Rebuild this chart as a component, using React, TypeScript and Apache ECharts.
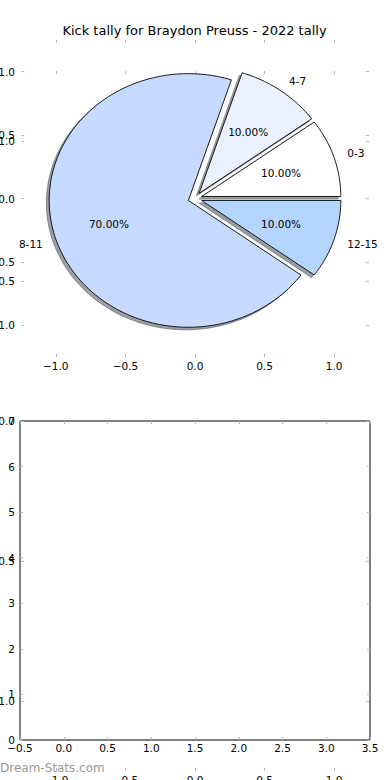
import React, { useEffect, useRef } from "react";
import * as echarts from "echarts";

const TITLE = "Kick tally for Braydon Preuss - 2022 tally";
const WATERMARK = "Dream-Stats.com";
const CATEGORIES = ["0-3", "4-7", "8-11", "12-15"];
const KICKS = [1, 1, 7, 1];
const EXPLODE = [0.05, 0.05, 0.05, 0.05];
const SLICE_COLORS = ["#ffffff", "#ebf2ff", "#c6daff", "#b3d5ff"];
const PIE_TICKS = [-1, -0.5, 0, 0.5, 1];
const BAR_X_TICKS = [-0.5, 0, 0.5, 1, 1.5, 2, 2.5, 3, 3.5];
const BAR_Y_TICKS = [0, 1, 2, 3, 4, 5, 6, 7];

const FONT = "DejaVu Sans";
const TICK_GRAY = "#b8b8b8";
const FS = 10.5;

const TOTAL = KICKS.reduce((a, b) => a + b, 0);
function sliceAngles(i: number): [number, number] {
  let s = 0;
  for (let j = 0; j < i; j++) s += KICKS[j];
  return [(s / TOTAL) * 360, ((s + KICKS[i]) / TOTAL) * 360];
}
function shadowColor(hex: string) {
  const r = parseInt(hex.slice(1, 3), 16) * 0.3;
  const g = parseInt(hex.slice(3, 5), 16) * 0.3;
  const b = parseInt(hex.slice(5, 7), 16) * 0.3;
  return `rgba(${Math.round(r)},${Math.round(g)},${Math.round(b)},0.5)`;
}
const fmt1 = (v: number) => (v < 0 ? "\u2212" : "") + Math.abs(v).toFixed(1);

function wedgeRender(offset: [number, number], shadow: boolean) {
  return (params: any, api: any) => {
    const i = params.dataIndex;
    const [a0, a1] = sliceAngles(i);
    const mid = (((a0 + a1) / 2) * Math.PI) / 180;
    const cx = EXPLODE[i] * Math.cos(mid) + offset[0];
    const cy = EXPLODE[i] * Math.sin(mid) + offset[1];
    const pts: number[][] = [api.coord([cx, cy])];
    const steps = Math.max(4, Math.ceil(a1 - a0));
    for (let k = 0; k <= steps; k++) {
      const a = ((a0 + ((a1 - a0) * k) / steps) * Math.PI) / 180;
      pts.push(api.coord([cx + Math.cos(a), cy + Math.sin(a)]));
    }
    const c = SLICE_COLORS[i];
    return {
      type: "polygon",
      shape: { points: pts },
      style: shadow
        ? { fill: shadowColor(c), stroke: shadowColor(c), lineWidth: 1 }
        : { fill: c, stroke: "#000", lineWidth: 0.9 },
    };
  };
}

function labelRender(params: any, api: any) {
  const i = params.dataIndex;
  const [a0, a1] = sliceAngles(i);
  const mid = (((a0 + a1) / 2) * Math.PI) / 180;
  const cx = EXPLODE[i] * Math.cos(mid);
  const cy = EXPLODE[i] * Math.sin(mid);
  const lx = cx + 1.1 * Math.cos(mid);
  const ly = cy + 1.1 * Math.sin(mid);
  const px = cx + 0.6 * Math.cos(mid);
  const py = cy + 0.6 * Math.sin(mid);
  const lp = api.coord([lx, ly]);
  const pp = api.coord([px, py]);
  const pct = ((KICKS[i] / TOTAL) * 100).toFixed(2) + "%";
  return {
    type: "group",
    children: [
      {
        type: "text",
        x: lp[0],
        y: lp[1],
        style: {
          text: CATEGORIES[i],
          fill: "#000",
          fontSize: FS,
          fontFamily: FONT,
          align: lx > 0 ? "left" : "right",
          verticalAlign: "middle",
        },
      },
      {
        type: "text",
        x: pp[0],
        y: pp[1],
        style: {
          text: pct,
          fill: "#000",
          fontSize: FS,
          fontFamily: FONT,
          align: "center",
          verticalAlign: "middle",
        },
      },
    ],
  };
}

const tick = { show: true, inside: true, length: 3, lineStyle: { color: TICK_GRAY, width: 1 } };
const noLine = { show: false, onZero: false };
const labelStyle = { color: "#000", fontSize: FS, fontFamily: FONT };

function makeAxis(gridIndex: number, pos: string, min: number, max: number, ticks: number[], labels: boolean, margin: number, f: (v: number) => string) {
  return {
    type: "value",
    gridIndex,
    position: pos,
    min,
    max,
    axisLine: noLine,
    splitLine: { show: false },
    axisTick: { ...tick, customValues: ticks },
    axisLabel: labels
      ? { show: true, ...labelStyle, margin, customValues: ticks, formatter: f, showMinLabel: true, showMaxLabel: true, hideOverlap: false }
      : { show: false },
  };
}

export default function App() {
  const ref = useRef<HTMLDivElement>(null);
  useEffect(() => {
    if (!ref.current) return;
    const chart = echarts.init(ref.current, null, { renderer: "svg" });
    const seriesData = KICKS.map((v, i) => [i, v]);
    const intFmt = (v: number) => String(Math.round(v));
    chart.setOption({
      animation: false,
      textStyle: { fontFamily: FONT },
      grid: [
        { left: 21, top: 40, width: 348, height: 317, show: false, containLabel: false, outerBoundsMode: "none" },
        { left: 20, top: 421, width: 350, height: 319, show: true, borderColor: "#000", borderWidth: 1, backgroundColor: "transparent", containLabel: false, outerBoundsMode: "none" },
        { left: 21, top: 71, width: 348, height: 700, show: false, containLabel: false, outerBoundsMode: "none" },
      ],
      xAxis: [
        makeAxis(0, "bottom", -1.25, 1.25, PIE_TICKS, true, 3, fmt1),
        makeAxis(0, "top", -1.25, 1.25, PIE_TICKS, false, 0, fmt1),
        makeAxis(1, "bottom", -0.5, 3.5, BAR_X_TICKS, true, 2, fmt1),
        makeAxis(1, "top", -0.5, 3.5, BAR_X_TICKS, false, 0, fmt1),
        makeAxis(2, "bottom", -1.25, 1.25, PIE_TICKS, true, 3, fmt1),
        makeAxis(2, "top", -1.25, 1.25, PIE_TICKS, false, 0, fmt1),
      ],
      yAxis: [
        makeAxis(0, "left", -1.25, 1.25, PIE_TICKS, true, 6, fmt1),
        makeAxis(0, "right", -1.25, 1.25, PIE_TICKS, false, 0, fmt1),
        makeAxis(1, "left", 0, 7, BAR_Y_TICKS, true, 5, intFmt),
        makeAxis(1, "right", 0, 7, BAR_Y_TICKS, false, 0, intFmt),
        makeAxis(2, "left", -1.25, 1.25, PIE_TICKS, true, 6, fmt1),
        makeAxis(2, "right", -1.25, 1.25, PIE_TICKS, false, 0, fmt1),
      ],
      series: [
        {
          type: "custom",
          name: "shadow",
          xAxisIndex: 0,
          yAxisIndex: 0,
          clip: false,
          z: 1,
          renderItem: wedgeRender([-0.02, -0.02], true),
          data: seriesData,
          silent: true,
        },
        {
          type: "custom",
          name: "wedges",
          xAxisIndex: 0,
          yAxisIndex: 0,
          clip: false,
          z: 2,
          renderItem: wedgeRender([0, 0], false),
          data: seriesData,
          silent: true,
        },
        {
          type: "custom",
          name: "labels",
          xAxisIndex: 0,
          yAxisIndex: 0,
          clip: false,
          z: 3,
          renderItem: labelRender,
          data: seriesData,
          silent: true,
        },
      ],
      graphic: [
        {
          type: "text",
          x: 194.5,
          y: 30,
          style: {
            text: TITLE,
            fill: "#000",
            fontSize: 13,
            fontFamily: FONT,
            align: "center",
            verticalAlign: "middle",
            textAlign: "center",
            textVerticalAlign: "middle",
          },
        },
        {
          type: "text",
          x: 0,
          y: 768,
          style: {
            text: WATERMARK,
            fill: "#999999",
            fontSize: 12,
            fontFamily: FONT,
            align: "left",
            verticalAlign: "middle",
            textAlign: "left",
            textVerticalAlign: "middle",
          },
        },
      ],
    });
    return () => chart.dispose();
  }, []);
  return (
    <div
      ref={ref}
      style={{ position: "fixed", left: 0, top: 0, width: 390, height: 780, overflow: "hidden", background: "#fff" }}
    />
  );
}
